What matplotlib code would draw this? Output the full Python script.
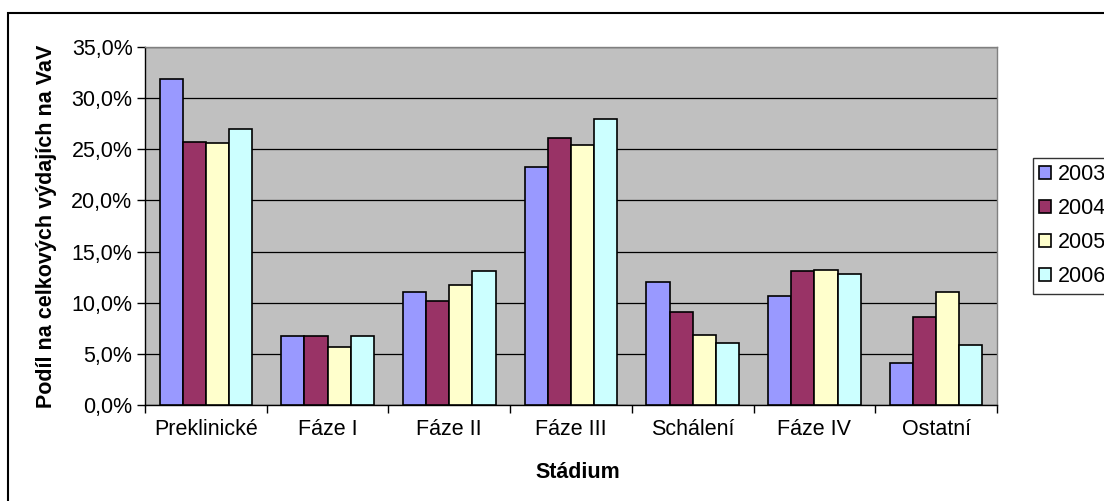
import numpy as np
import matplotlib.pyplot as plt
from matplotlib.patches import Rectangle
from matplotlib.ticker import FuncFormatter

plt.rcParams['font.family'] = ['Liberation Sans', 'DejaVu Sans']

# data (percent of total R&D spending)
stages = ["Preklinické", "Fáze I", "Fáze II", "Fáze III", "Schálení", "Fáze IV", "Ostatní"]
years = ["2003", "2004", "2005", "2006"]
v2003 = [31.9, 6.7, 11.0, 23.3, 12.0, 10.7, 4.1]
v2004 = [25.7, 6.7, 10.2, 26.1, 9.1, 13.1, 8.6]
v2005 = [25.6, 5.7, 11.7, 25.4, 6.8, 13.2, 11.0]
v2006 = [27.0, 6.7, 13.1, 28.0, 6.1, 12.8, 5.9]
colors = ["#9999FF", "#993366", "#FFFFCC", "#CCFFFF"]

fs = 15.5
W, H = 1104, 501
fig = plt.figure(figsize=(W / 100, H / 100), dpi=100)

# outer chart frame (runs off the right/bottom edge like the original)
fig.patches.append(Rectangle((8 / W, -0.1), 2, 1 - 13 / H + 0.1, transform=fig.transFigure,
                             fill=False, edgecolor='black', linewidth=1.5))

# plot area in pixels
left, right, top, bottom = 145, 997, 47, 405
ax = fig.add_axes([left / W, 1 - bottom / H, (right - left) / W, (bottom - top) / H])
ax.set_facecolor('#C0C0C0')

x = np.arange(len(stages))
bw = 0.19
for i, (vals, c) in enumerate(zip([v2003, v2004, v2005, v2006], colors)):
    ax.bar(x + (i - 1.5) * bw, vals, bw, color=c, edgecolor='black', linewidth=1.2,
           label=years[i], zorder=3)

ax.set_xlim(-0.5, len(stages) - 0.5)
ax.set_ylim(0, 35)
ax.set_yticks(np.arange(0, 35.1, 5))
ax.yaxis.set_major_formatter(FuncFormatter(lambda v, p: f"{v:.1f}%".replace('.', ',')))
ax.grid(axis='y', color='black', linewidth=0.9, zorder=1)

ax.set_xticks(x)
ax.set_xticklabels(stages)
ax.set_xticks(np.arange(-0.5, len(stages)), minor=True)
ax.tick_params(axis='x', which='major', length=0, pad=10, labelsize=fs)
ax.tick_params(axis='x', which='minor', length=6, width=1, direction='out')
ax.tick_params(axis='y', length=6, width=1, labelsize=fs, pad=3)

for s in ['top', 'right']:
    ax.spines[s].set_color('#808080')
    ax.spines[s].set_linewidth(1)
ax.spines['left'].set_linewidth(1)
ax.spines['bottom'].set_linewidth(1)

fig.text(578 / W, 1 - 473 / H, "Stádium", ha='center', va='center',
         fontsize=fs, fontweight='bold')
fig.text(47 / W, 1 - 226 / H, "Podíl na celkových výdajích na VaV", ha='center', va='center',
         rotation=90, fontsize=fs, fontweight='bold')

# legend runs off the right edge, as in the original
leg = fig.legend(loc='upper left', bbox_to_anchor=(1033 / W, 1 - 158 / H), fontsize=fs,
                 frameon=True, fancybox=False, edgecolor='black', handlelength=0.55,
                 handleheight=0.55, handletextpad=0.3, labelspacing=0.6, borderpad=0.3,
                 borderaxespad=0)
leg.get_frame().set_linewidth(1)

fig.savefig("out.png", dpi=100)
